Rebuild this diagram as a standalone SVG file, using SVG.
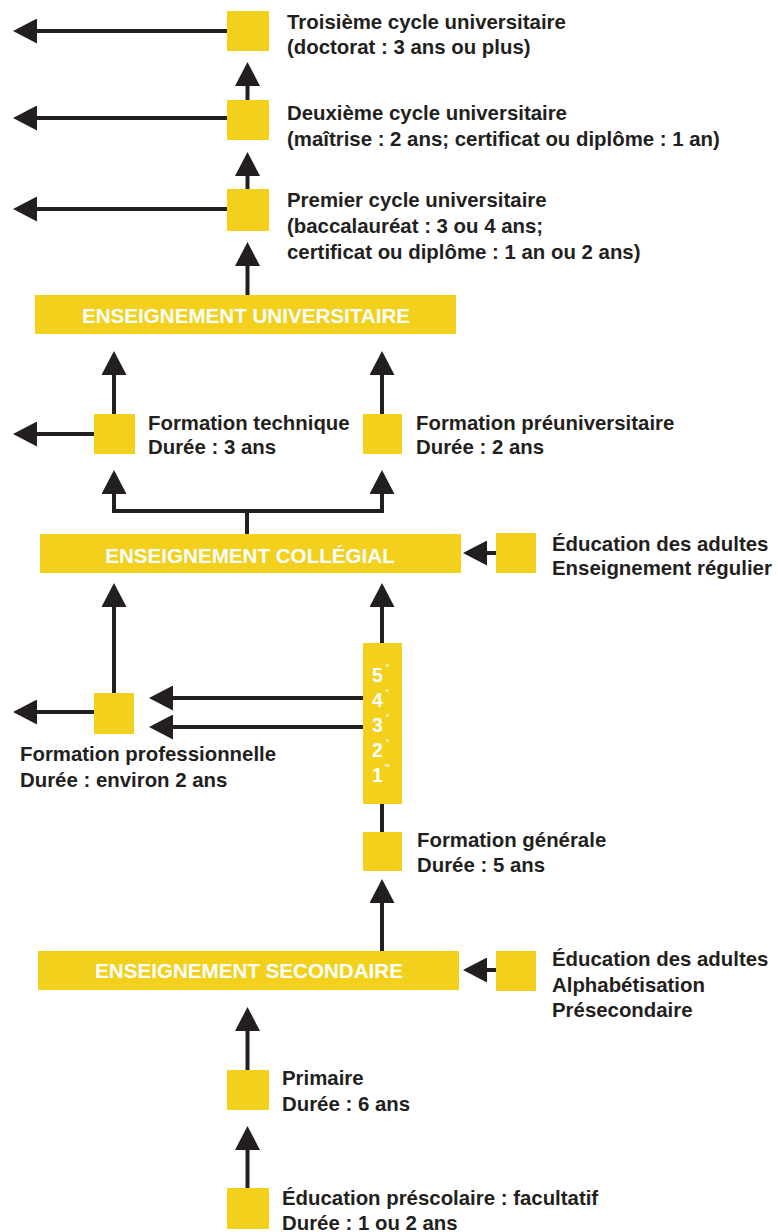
<svg xmlns="http://www.w3.org/2000/svg" width="778" height="1232" viewBox="0 0 778 1232">
<defs>
<style>
.box{fill:#F2D01C}
.lbl{font-family:"Liberation Sans",Arial,sans-serif;font-weight:bold;font-size:20.4px;fill:#231F20}
.hdr{font-family:"Liberation Sans",Arial,sans-serif;font-weight:bold;font-size:20.6px;fill:#FFFFFF;text-anchor:middle}
.num{font-family:"Liberation Sans",Arial,sans-serif;font-weight:bold;font-size:19.5px;fill:#FFFFFF}
.sup{font-family:"Liberation Sans",Arial,sans-serif;font-weight:bold;font-size:5px;fill:#FFFFFF}
.ln{fill:none;stroke:#231F20;stroke-width:4}
.arr{marker-end:url(#ah)}
</style>
<marker id="ah" viewBox="0 0 24 25" refX="2" refY="12.5" markerWidth="24" markerHeight="25" markerUnits="userSpaceOnUse" orient="auto">
<path d="M0,0 L24,12.5 L0,25 Z" fill="#231F20"/>
</marker>
</defs>
<rect width="778" height="1232" fill="#FFFFFF"/>

<g id="connectors">
<path class="ln arr" d="M228,31 H35"/>
<path class="ln arr" d="M228,118 H35"/>
<path class="ln arr" d="M228,209 H35"/>
<path class="ln arr" d="M247.5,101 V84"/>
<path class="ln arr" d="M247.5,190 V174"/>
<path class="ln arr" d="M247.5,296 V264"/>
<path class="ln arr" d="M114,415 V373"/>
<path class="ln arr" d="M382,415 V373"/>
<path class="ln arr" d="M95,434 H35"/>
<path class="ln arr" d="M247,535 V511 H114 V492"/>
<path class="ln arr" d="M247,511 H382 V492"/>
<path class="ln arr" d="M497,553 H485"/>
<path class="ln arr" d="M114,694 V605"/>
<path class="ln arr" d="M382,644 V605"/>
<path class="ln arr" d="M95,712 H35"/>
<path class="ln arr" d="M364,698 H171"/>
<path class="ln arr" d="M364,727 H171"/>
<path class="ln" d="M382,833 V803"/>
<path class="ln arr" d="M382,952 V901"/>
<path class="ln arr" d="M497,970 H485"/>
<path class="ln arr" d="M247.5,1071 V1029"/>
<path class="ln arr" d="M247.5,1189 V1148"/>
</g>

<g id="troisieme">
<rect class="box" x="227" y="11" width="42" height="40"/>
<text class="lbl" x="287" y="29">Troisième cycle universitaire</text>
<text class="lbl" x="287" y="54">(doctorat : 3 ans ou plus)</text>
</g>
<g id="deuxieme">
<rect class="box" x="227" y="100" width="42" height="40"/>
<text class="lbl" x="287" y="120">Deuxième cycle universitaire</text>
<text class="lbl" x="287" y="146">(maîtrise : 2 ans; certificat ou diplôme : 1 an)</text>
</g>
<g id="premier">
<rect class="box" x="227" y="189" width="42" height="42"/>
<text class="lbl" x="287" y="207">Premier cycle universitaire</text>
<text class="lbl" x="287" y="233">(baccalauréat : 3 ou 4 ans;</text>
<text class="lbl" x="287" y="259">certificat ou diplôme : 1 an ou 2 ans)</text>
</g>
<g id="universitaire">
<rect class="box" x="35" y="295" width="421" height="39"/>
<text class="hdr" x="246" y="323">ENSEIGNEMENT UNIVERSITAIRE</text>
</g>
<g id="technique">
<rect class="box" x="94" y="414" width="41" height="40"/>
<text class="lbl" x="148" y="430">Formation technique</text>
<text class="lbl" x="148" y="454">Durée : 3 ans</text>
</g>
<g id="preuniversitaire">
<rect class="box" x="363" y="414" width="39" height="40"/>
<text class="lbl" x="416" y="430">Formation préuniversitaire</text>
<text class="lbl" x="416" y="454">Durée : 2 ans</text>
</g>
<g id="collegial">
<rect class="box" x="40" y="534" width="421" height="39"/>
<text class="hdr" x="250" y="563">ENSEIGNEMENT COLLÉGIAL</text>
</g>
<g id="adultes-collegial">
<rect class="box" x="496" y="533" width="40" height="40"/>
<text class="lbl" x="552" y="551">Éducation des adultes</text>
<text class="lbl" x="552" y="575">Enseignement régulier</text>
</g>
<g id="professionnelle">
<rect class="box" x="94" y="693" width="40" height="41"/>
<text class="lbl" x="20" y="761">Formation professionnelle</text>
<text class="lbl" x="20" y="787">Durée : environ 2 ans</text>
</g>
<g id="secondaire-annees">
<rect class="box" x="363" y="643" width="39" height="161"/>
<text class="num" x="372" y="682">5</text><text class="sup" x="386" y="667">e</text>
<text class="num" x="372" y="707">4</text><text class="sup" x="386" y="692">e</text>
<text class="num" x="372" y="732">3</text><text class="sup" x="386" y="717">e</text>
<text class="num" x="372" y="757">2</text><text class="sup" x="386" y="742">e</text>
<text class="num" x="372" y="782">1</text><text class="sup" x="385" y="767">re</text>
</g>
<g id="generale">
<rect class="box" x="363" y="832" width="39" height="39"/>
<text class="lbl" x="417" y="847">Formation générale</text>
<text class="lbl" x="417" y="872">Durée : 5 ans</text>
</g>
<g id="secondaire">
<rect class="box" x="38" y="951" width="421" height="39"/>
<text class="hdr" x="249" y="978">ENSEIGNEMENT SECONDAIRE</text>
</g>
<g id="adultes-secondaire">
<rect class="box" x="496" y="951" width="40" height="40"/>
<text class="lbl" x="552" y="966">Éducation des adultes</text>
<text class="lbl" x="552" y="992">Alphabétisation</text>
<text class="lbl" x="552" y="1017">Présecondaire</text>
</g>
<g id="primaire">
<rect class="box" x="227" y="1070" width="42" height="40"/>
<text class="lbl" x="282" y="1085">Primaire</text>
<text class="lbl" x="282" y="1111">Durée : 6 ans</text>
</g>
<g id="prescolaire">
<rect class="box" x="227" y="1188" width="42" height="41"/>
<text class="lbl" x="282" y="1205">Éducation préscolaire : facultatif</text>
<text class="lbl" x="282" y="1230">Durée : 1 ou 2 ans</text>
</g>
</svg>
